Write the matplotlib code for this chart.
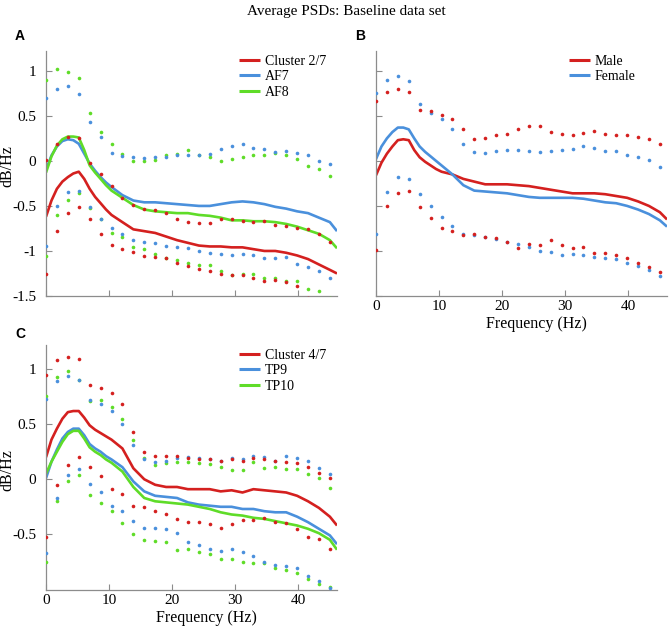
import matplotlib
matplotlib.use('Agg')
import matplotlib.pyplot as plt

plt.rcParams['font.family'] = ['Liberation Serif', 'DejaVu Serif']
plt.rcParams['axes.unicode_minus'] = False

# ---------------- data ----------------
dot_freq = [0.0, 1.73, 3.47, 5.2, 6.93, 8.67, 10.4, 12.13, 13.87, 15.6, 17.33, 19.07,
            20.8, 22.53, 24.27, 26.0, 27.73, 29.47, 31.2, 32.93, 34.67, 36.4, 38.13,
            39.87, 41.6, 43.33, 45.07]
line_freq = [0.0, 0.87, 1.73, 2.6, 3.47, 4.33, 5.2, 6.07, 6.93, 7.8, 8.67, 9.53, 10.4,
             12.13, 13.87, 15.6, 17.33, 19.07, 20.8, 22.53, 24.27, 26.0, 27.73, 29.47,
             31.2, 32.93, 34.67, 36.4, 38.13, 39.87, 41.6, 43.33, 45.07, 46.2]

# Panel A
a_cluster = [-0.62, -0.44, -0.31, -0.23, -0.18, -0.14, -0.12, -0.20, -0.31, -0.40, -0.47, -0.54, -0.60,
             -0.68, -0.76, -0.78, -0.80, -0.84, -0.88, -0.91, -0.94, -0.95, -0.95, -0.96, -0.96,
             -0.98, -1.00, -1.00, -1.02, -1.05, -1.09, -1.15, -1.21, -1.25]
a_af7 = [-0.10, 0.06, 0.16, 0.22, 0.24, 0.23, 0.19, 0.08, -0.03, -0.11, -0.18, -0.24, -0.29,
         -0.38, -0.44, -0.46, -0.46, -0.47, -0.48, -0.49, -0.50, -0.50, -0.48, -0.46, -0.45,
         -0.46, -0.48, -0.51, -0.53, -0.56, -0.58, -0.63, -0.68, -0.78]
a_af8 = [-0.13, 0.05, 0.17, 0.24, 0.27, 0.27, 0.26, 0.12, -0.05, -0.13, -0.20, -0.27, -0.33,
         -0.41, -0.49, -0.54, -0.56, -0.57, -0.58, -0.58, -0.60, -0.61, -0.63, -0.66, -0.66,
         -0.67, -0.67, -0.68, -0.70, -0.73, -0.77, -0.81, -0.88, -0.97]
a_cluster_hi = [0.01, 0.19, 0.26, 0.25, -0.02, -0.15, -0.28, -0.41, -0.49, -0.53, -0.55, -0.58, -0.64,
                -0.68, -0.69, -0.69, -0.64, -0.64, -0.67, -0.68, -0.67, -0.71, -0.72, -0.74, -0.76,
                -0.81, -0.90]
a_cluster_lo = [-1.26, -0.78, -0.58, -0.51, -0.64, -0.81, -0.93, -0.98, -1.01, -1.06, -1.07, -1.08,
                -1.13, -1.17, -1.20, -1.22, -1.26, -1.27, -1.27, -1.30, -1.33, -1.32, -1.35, -1.39,
                -1.52, -1.58, -1.62]
a_af7_hi = [0.70, 0.80, 0.83, 0.74, 0.43, 0.26, 0.09, 0.05, 0.04, 0.03, 0.04, 0.04, 0.07, 0.07,
            0.07, 0.08, 0.13, 0.17, 0.19, 0.14, 0.13, 0.10, 0.11, 0.09, 0.07, 0.00, -0.04]
a_af7_lo = [-0.94, -0.50, -0.34, -0.33, -0.51, -0.64, -0.75, -0.81, -0.88, -0.90, -0.91, -0.94,
            -0.96, -0.97, -1.00, -1.02, -1.03, -1.04, -1.03, -1.05, -1.08, -1.08, -1.07, -1.15,
            -1.18, -1.22, -1.30]
a_af8_hi = [0.90, 1.02, 0.99, 0.92, 0.53, 0.32, 0.19, 0.08, 0.00, 0.00, 0.01, 0.06, 0.08, 0.12,
            0.07, 0.04, 0.00, 0.02, 0.04, 0.07, 0.07, 0.09, 0.06, 0.02, -0.06, -0.09, -0.17]
a_af8_lo = [-1.06, -0.60, -0.43, -0.36, -0.52, -0.65, -0.80, -0.85, -0.96, -0.98, -1.03, -1.08,
            -1.10, -1.13, -1.16, -1.16, -1.22, -1.27, -1.26, -1.26, -1.30, -1.30, -1.33, -1.33,
            -1.42, -1.44, -1.52]

# Panel B
b_male = [-0.16, -0.02, 0.08, 0.16, 0.23, 0.24, 0.23, 0.12, 0.04, -0.01, -0.05, -0.09, -0.12,
          -0.15, -0.20, -0.23, -0.26, -0.26, -0.26, -0.27, -0.28, -0.30, -0.32, -0.34, -0.36,
          -0.36, -0.36, -0.37, -0.39, -0.41, -0.45, -0.50, -0.57, -0.65]
b_female = [0.02, 0.16, 0.25, 0.32, 0.37, 0.37, 0.35, 0.25, 0.16, 0.10, 0.05, 0.00, -0.05,
            -0.15, -0.27, -0.33, -0.34, -0.35, -0.36, -0.38, -0.40, -0.41, -0.41, -0.41, -0.41,
            -0.42, -0.44, -0.46, -0.47, -0.50, -0.54, -0.59, -0.66, -0.73]
b_male_hi = [0.67, 0.77, 0.80, 0.77, 0.57, 0.55, 0.51, 0.47, 0.35, 0.24, 0.25, 0.29, 0.30, 0.35,
             0.39, 0.39, 0.32, 0.30, 0.29, 0.31, 0.33, 0.30, 0.29, 0.29, 0.26, 0.24, 0.19]
b_male_lo = [-0.99, -0.50, -0.36, -0.33, -0.51, -0.63, -0.74, -0.78, -0.82, -0.81, -0.85, -0.86,
             -0.90, -0.97, -0.92, -0.93, -0.88, -0.93, -0.97, -0.96, -1.02, -1.02, -1.04, -1.08,
             -1.13, -1.18, -1.23]
b_female_hi = [0.75, 0.90, 0.94, 0.89, 0.63, 0.53, 0.46, 0.35, 0.19, 0.10, 0.09, 0.11, 0.12, 0.12,
               0.11, 0.10, 0.11, 0.12, 0.13, 0.16, 0.14, 0.11, 0.11, 0.07, 0.04, 0.01, -0.07]
b_female_lo = [-0.81, -0.35, -0.18, -0.20, -0.37, -0.50, -0.62, -0.72, -0.81, -0.82, -0.84, -0.87,
               -0.90, -0.92, -0.96, -1.00, -1.01, -1.04, -1.03, -1.04, -1.07, -1.08, -1.09, -1.13,
               -1.17, -1.21, -1.28]

# Panel C
c_cluster = [0.20, 0.36, 0.46, 0.55, 0.61, 0.62, 0.62, 0.56, 0.49, 0.45, 0.42, 0.39, 0.36,
             0.28, 0.10, 0.00, -0.05, -0.07, -0.07, -0.09, -0.09, -0.09, -0.11, -0.10, -0.12,
             -0.09, -0.10, -0.11, -0.12, -0.15, -0.20, -0.26, -0.34, -0.42]
c_tp9 = [0.01, 0.16, 0.27, 0.37, 0.43, 0.46, 0.46, 0.40, 0.32, 0.28, 0.25, 0.21, 0.18,
         0.11, -0.02, -0.11, -0.15, -0.16, -0.17, -0.21, -0.23, -0.24, -0.25, -0.25, -0.27,
         -0.27, -0.29, -0.30, -0.30, -0.34, -0.39, -0.45, -0.51, -0.59]
c_tp10 = [0.05, 0.16, 0.25, 0.34, 0.41, 0.44, 0.44, 0.37, 0.29, 0.25, 0.22, 0.18, 0.15,
          0.07, -0.07, -0.17, -0.20, -0.21, -0.22, -0.23, -0.25, -0.27, -0.30, -0.32, -0.33,
          -0.35, -0.36, -0.38, -0.40, -0.42, -0.45, -0.49, -0.55, -0.64]
c_cluster_hi = [0.95, 1.08, 1.11, 1.09, 0.86, 0.83, 0.78, 0.68, 0.43, 0.25, 0.21, 0.21, 0.21, 0.19,
                0.18, 0.18, 0.17, 0.18, 0.17, 0.19, 0.18, 0.17, 0.16, 0.15, 0.11, 0.06, 0.01]
c_cluster_lo = [-0.52, -0.05, 0.13, 0.20, 0.11, 0.03, -0.09, -0.13, -0.24, -0.25, -0.29, -0.32,
                -0.36, -0.39, -0.39, -0.41, -0.44, -0.41, -0.37, -0.37, -0.35, -0.39, -0.40, -0.45,
                -0.52, -0.54, -0.63]
c_tp9_hi = [0.73, 0.89, 0.94, 0.90, 0.72, 0.68, 0.62, 0.50, 0.31, 0.18, 0.16, 0.17, 0.19, 0.20,
            0.19, 0.18, 0.17, 0.19, 0.18, 0.21, 0.20, 0.17, 0.21, 0.19, 0.17, 0.10, 0.05]
c_tp9_lo = [-0.67, -0.17, 0.04, 0.09, -0.04, -0.12, -0.24, -0.29, -0.38, -0.44, -0.44, -0.45,
            -0.49, -0.57, -0.60, -0.63, -0.65, -0.63, -0.66, -0.70, -0.75, -0.78, -0.79, -0.81,
            -0.88, -0.92, -0.99]
c_tp10_hi = [0.76, 0.93, 0.98, 0.90, 0.71, 0.72, 0.66, 0.55, 0.36, 0.19, 0.13, 0.15, 0.16, 0.16,
             0.15, 0.14, 0.11, 0.08, 0.08, 0.16, 0.10, 0.11, 0.09, 0.09, 0.05, 0.01, -0.08]
c_tp10_lo = [-0.75, -0.20, -0.02, 0.04, -0.14, -0.22, -0.29, -0.40, -0.50, -0.55, -0.56, -0.57,
             -0.64, -0.63, -0.66, -0.68, -0.72, -0.72, -0.75, -0.76, -0.76, -0.81, -0.82, -0.85,
             -0.91, -0.95, -0.98]

x_ticks = [0, 10, 20, 30, 40]
ab_yticks = [-1.5, -1, -0.5, 0, 0.5, 1]
ab_ylabels = ['-1.5', '-1', '-0.5', '0', '0.5', '1']
c_yticks = [-0.5, 0, 0.5, 1]
c_ylabels = ['-0.5', '0', '0.5', '1']

RED = '#d4201f'
BLUE = '#4a90dc'
GREEN = '#5fdc28'
SPINE = '#8c8c8c'

# ---------------- figure ----------------
fig = plt.figure(figsize=(6.7, 6.28), dpi=100)
W, H = 670.0, 628.0


def make_ax(left, top, right, bottom):
    return fig.add_axes([left / W, 1 - bottom / H, (right - left) / W, (bottom - top) / H])


axA = make_ax(46, 51, 337, 296)
axB = make_ax(376, 51, 667, 296)
axC = make_ax(46, 345, 337, 590)


def style(ax, ylim, yticks, ylabels, show_x, show_y):
    ax.set_xlim(0, 46.2)
    ax.set_ylim(*ylim)
    for s in ['top', 'right']:
        ax.spines[s].set_visible(False)
    for s in ['left', 'bottom']:
        ax.spines[s].set_color(SPINE)
        ax.spines[s].set_linewidth(0.9)
    ax.set_xticks(x_ticks)
    ax.set_yticks(yticks)
    ax.set_yticklabels(ylabels if show_y else [])
    if not show_x:
        ax.set_xticklabels([])
    ax.tick_params(direction='in', length=4, width=0.8, color=SPINE, labelsize=11)
    ax.tick_params(axis='y', pad=7)
    ax.tick_params(axis='x', pad=3)


def panel(ax, lines, dots):
    for vals, color, label in lines:
        ax.plot(line_freq, vals, color=color, lw=1.9, label=label, zorder=2,
                solid_capstyle='butt')
    for vals, color in dots:
        ax.plot(dot_freq, vals, linestyle='none', marker='o', ms=2.6, mec='none',
                color=color, zorder=3)
    leg = ax.legend(loc='upper left', bbox_to_anchor=(0.663, 0.985), frameon=False,
                    fontsize=10, handlelength=1.55, handletextpad=0.3, labelspacing=0.18,
                    borderpad=0, borderaxespad=0)
    for l in leg.get_lines():
        l.set_linewidth(2.2)


def ylab(ax, ypos):
    ax.set_ylabel('dB/Hz', fontsize=11.5)
    ax.yaxis.set_label_coords(-0.105, ypos)


def xlab(ax):
    ax.set_xlabel('Frequency (Hz)', fontsize=11.5)
    ax.xaxis.set_label_coords(0.553, -0.082)


panel(axA,
      [(a_cluster, RED, 'Cluster 2/7'), (a_af7, BLUE, 'AF7'), (a_af8, GREEN, 'AF8')],
      [(a_af8_hi, GREEN), (a_af7_hi, BLUE), (a_cluster_hi, RED),
       (a_af8_lo, GREEN), (a_af7_lo, BLUE), (a_cluster_lo, RED)])
style(axA, (-1.5, 1.22), ab_yticks, ab_ylabels, False, True)
ylab(axA, 0.53)

panel(axB,
      [(b_male, RED, 'Male'), (b_female, BLUE, 'Female')],
      [(b_female_hi, BLUE), (b_male_hi, RED), (b_female_lo, BLUE), (b_male_lo, RED)])
style(axB, (-1.5, 1.22), ab_yticks, ab_ylabels, True, False)
xlab(axB)

panel(axC,
      [(c_cluster, RED, 'Cluster 4/7'), (c_tp9, BLUE, 'TP9'), (c_tp10, GREEN, 'TP10')],
      [(c_tp10_hi, GREEN), (c_tp9_hi, BLUE), (c_cluster_hi, RED),
       (c_tp10_lo, GREEN), (c_tp9_lo, BLUE), (c_cluster_lo, RED)])
style(axC, (-1.006, 1.22), c_yticks, c_ylabels, True, True)
ylab(axC, 0.49)
xlab(axC)

fig.text(346 / W, 1 - 11 / H, 'Average PSDs: Baseline data set', ha='center', va='center',
         fontsize=11)
for lab, x, y in [('A', 20, 36), ('B', 360, 36), ('C', 20, 334)]:
    fig.text(x / W, 1 - y / H, lab, ha='center', va='center', fontsize=10,
             fontweight='bold', family=['Liberation Sans', 'DejaVu Sans'])

fig.savefig('out.png', dpi=100)
